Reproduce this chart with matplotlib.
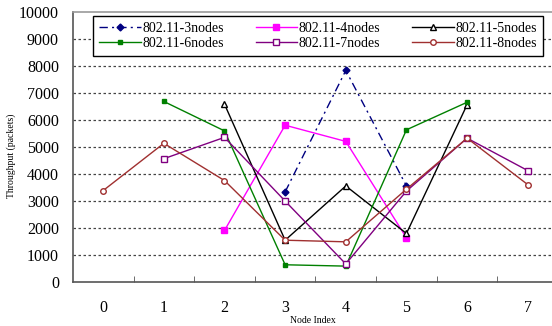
import numpy as np
import matplotlib.pyplot as plt

# Data (throughput in packets per node index; None = node not present)
nodes = [0, 1, 2, 3, 4, 5, 6, 7]
thr_3 = [None, None, None, 3350, 7850, 3570, None, None]
thr_4 = [None, None, 1920, 5820, 5220, 1650, None, None]
thr_5 = [None, None, 6600, 1560, 3570, 1810, 6580, None]
thr_6 = [None, 6700, 5610, 650, 600, 5650, 6670, None]
thr_7 = [None, 4580, 5370, 3010, 680, 3380, 5340, 4140]
thr_8 = [3400, 5150, 3770, 1560, 1500, 3450, 5340, 3620]

labels = ["802.11-3nodes", "802.11-4nodes", "802.11-5nodes",
          "802.11-6nodes", "802.11-7nodes", "802.11-8nodes"]

serif = ["Liberation Serif", "DejaVu Serif"]
plt.rcParams['font.family'] = serif

fig = plt.figure(figsize=(5.52, 3.26), dpi=100)
ax = fig.add_axes([0.132, 0.134, 0.868, 0.828])


def series(vals):
    x = [n for n, v in zip(nodes, vals) if v is not None]
    y = [v for v in vals if v is not None]
    return x, y


styles = [
    dict(color='#000080', ls=(0, (6, 3, 1.5, 3)), marker='D', ms=3.5, mfc='#000080'),
    dict(color='#ff00ff', ls='-', marker='s', ms=4, mfc='#ff00ff'),
    dict(color='#000000', ls='-', marker='^', ms=4, mfc='white'),
    dict(color='#008000', ls='-', marker='s', ms=3.5, mfc='#008000'),
    dict(color='#800080', ls='-', marker='s', ms=4, mfc='white'),
    dict(color='#a03030', ls='-', marker='o', ms=4, mfc='white'),
]

handles = []
for vals, lab, st in zip([thr_3, thr_4, thr_5, thr_6, thr_7, thr_8], labels, styles):
    x, y = series(vals)
    h, = ax.plot(x, y, lw=1.0, label=lab, mec=st['color'], mew=1.0, **st)
    handles.append(h)

ax.set_xlim(-0.5, 7.4)
ax.set_ylim(0, 10000)
ax.set_yticks(np.arange(0, 10001, 1000))
ax.set_xticks(nodes)
ax.set_xticks(np.arange(0.5, 7.5, 1), minor=True)
ax.tick_params(axis='x', which='major', length=0, pad=13, labelsize=11.5)
ax.tick_params(axis='x', which='minor', direction='in', length=4, color='#555555')
ax.tick_params(axis='y', length=0, pad=10, labelsize=11.5)

for yv in range(1000, 10000, 1000):
    ax.axhline(yv, color='#444444', lw=0.9, ls=(0, (2, 2)), zorder=0)

ax.spines['right'].set_visible(False)
ax.spines['left'].set_color('#555555')
ax.spines['bottom'].set_color('#555555')
ax.spines['top'].set_color('#999999')
for s in ax.spines.values():
    s.set_linewidth(1.2)

ax.set_xlabel("Node Index", fontsize=7, labelpad=0)
ax.set_ylabel("Throughput (packets)", fontsize=7)
ax.yaxis.set_label_coords(-0.118, 0.47)

order = [0, 3, 1, 4, 2, 5]
leg = ax.legend([handles[i] for i in order], [labels[i] for i in order],
                ncol=3, loc='upper center', bbox_to_anchor=(0.5116, 0.987),
                borderaxespad=0, fontsize=10, fancybox=False, framealpha=1,
                edgecolor='black', handlelength=3.0, handletextpad=0.1,
                labelspacing=0.15, borderpad=0.45, columnspacing=2.3)
leg.get_frame().set_linewidth(1.0)

fig.savefig("out.png", dpi=100)
